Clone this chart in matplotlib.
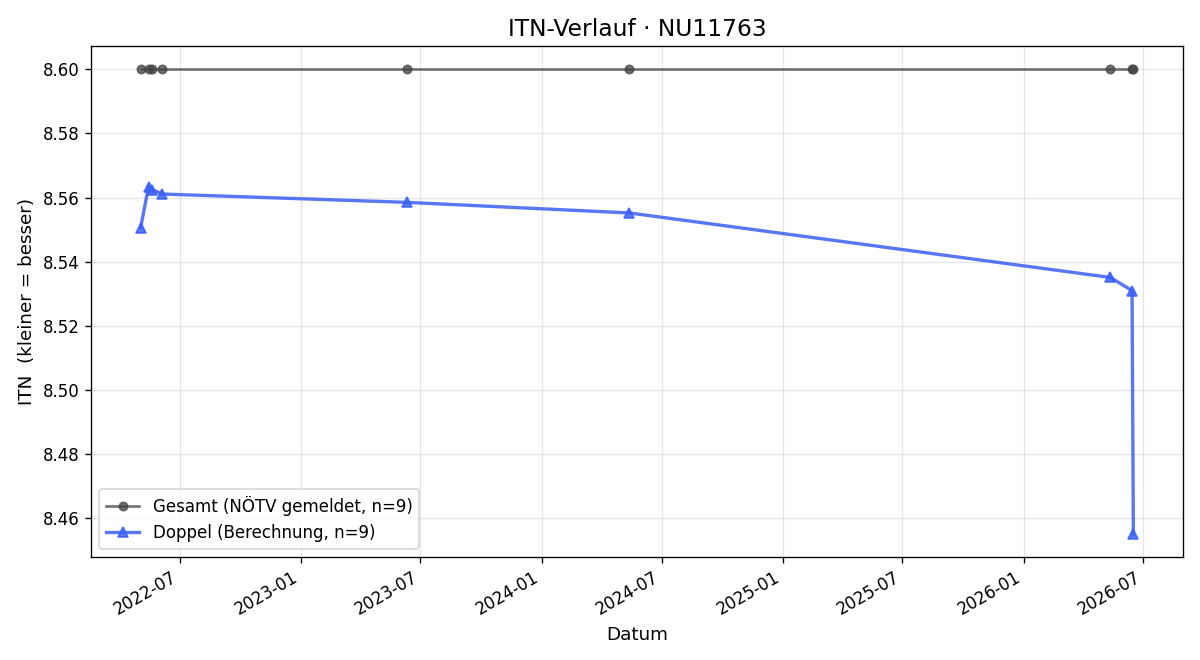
import matplotlib
matplotlib.use("Agg")
import matplotlib.pyplot as plt
import matplotlib.dates as mdates
import pandas as pd

# Messdaten
daten = pd.to_datetime([
    "2022-05-03", "2022-05-15", "2022-05-20", "2022-06-05", "2023-06-11",
    "2024-05-13", "2026-05-12", "2026-06-14", "2026-06-16",
])
itn_gesamt = [8.60, 8.60, 8.60, 8.60, 8.60, 8.60, 8.60, 8.60, 8.60]
itn_doppel = [8.5506, 8.5634, 8.5625, 8.5611, 8.5585, 8.5552, 8.5351, 8.5310, 8.4552]

fig, ax = plt.subplots(figsize=(10, 5.5), dpi=120)

ax.plot(daten, itn_gesamt, marker="o", color="#444444", alpha=0.75,
        linewidth=1.6, markersize=5, label=f"Gesamt (NÖTV gemeldet, n={len(itn_gesamt)})")
ax.plot(daten, itn_doppel, marker="^", color="#3a5ff5", alpha=0.85,
        linewidth=2.0, markersize=6, label=f"Doppel (Berechnung, n={len(itn_doppel)})")

ax.set_title("ITN-Verlauf · NU11763", fontsize=14)
ax.set_xlabel("Datum", fontsize=11)
ax.set_ylabel("ITN  (kleiner = besser)", fontsize=11)
ax.grid(True, alpha=0.3)
ax.xaxis.set_major_locator(mdates.MonthLocator(bymonth=[1, 7]))
ax.xaxis.set_major_formatter(mdates.DateFormatter("%Y-%m"))
ax.legend(loc="lower left", fontsize=10)
fig.autofmt_xdate()

fig.subplots_adjust(left=91 / 1200, right=1183 / 1200, top=1 - 46 / 660, bottom=1 - 557 / 660)
fig.savefig("out.png")
